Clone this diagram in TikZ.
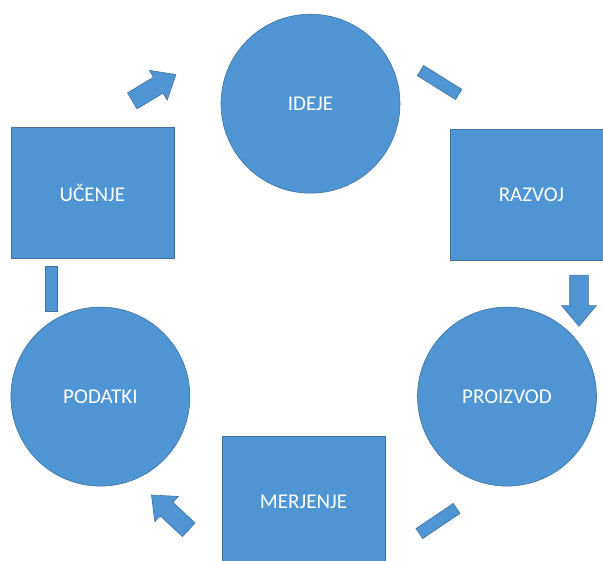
\documentclass[tikz,border=0pt]{standalone}
\usepackage{fontspec}
\setmainfont{Carlito}
\usetikzlibrary{shapes.arrows}

\definecolor{cycleblue}{RGB}{79,149,212}
\definecolor{cycleedge}{RGB}{65,113,156}

\begin{document}
\begin{tikzpicture}[
    x=1pt, y=-1pt,
    blob/.style={
        draw=cycleedge,
        fill=cycleblue,
        line width=0.6pt
    },
    phase/.style={
        blob,
        text=white,
        font=\fontsize{21}{25}\selectfont,
        inner sep=0pt
    },
    idea/.style={phase, circle, minimum size=179pt},
    work/.style={phase, rectangle, minimum width=163pt, minimum height=130.5pt},
    flow/.style={
        blob,
        single arrow,
        inner xsep=0pt,
        inner ysep=9pt,
        single arrow head extend=8pt,
        single arrow tip angle=80,
        minimum height=51pt,
        anchor=tail
    },
    link/.style={
        blob,
        rectangle,
        inner sep=0pt,
        minimum width=45pt,
        minimum height=12pt
    }
]
\useasboundingbox (0,0) rectangle (603,561);
\clip (0,0) rectangle (603,561);

% phases of the cycle
\node[idea] (ideje) at (310.5,103.7) {IDEJE};
\node[work] (razvoj) at (531.5,194.7) {RAZVOJ};
\node[idea] (proizvod) at (507,396.6) {PROIZVOD};
\node[work] (merjenje) at (303.5,501.7) {MERJENJE};
\node[idea] (podatki) at (100.4,396.6) {PODATKI};
\node[work] (ucenje) at (92.3,193) {UČENJE};

% block arrows
\node[flow, rotate=31] (ucenje-ideje) at (132,101) {};
\node[flow, rotate=-90] (razvoj-proizvod) at (579,275) {};
\node[flow, rotate=137] (merjenje-podatki) at (189,530) {};

% plain bars
\node[link, rotate=-32] (ideje-razvoj) at (439.6,82.5) {};
\node[link, rotate=34] (proizvod-merjenje) at (438,521) {};
\node[link, rotate=90] (podatki-ucenje) at (51,289) {};

\end{tikzpicture}
\end{document}
